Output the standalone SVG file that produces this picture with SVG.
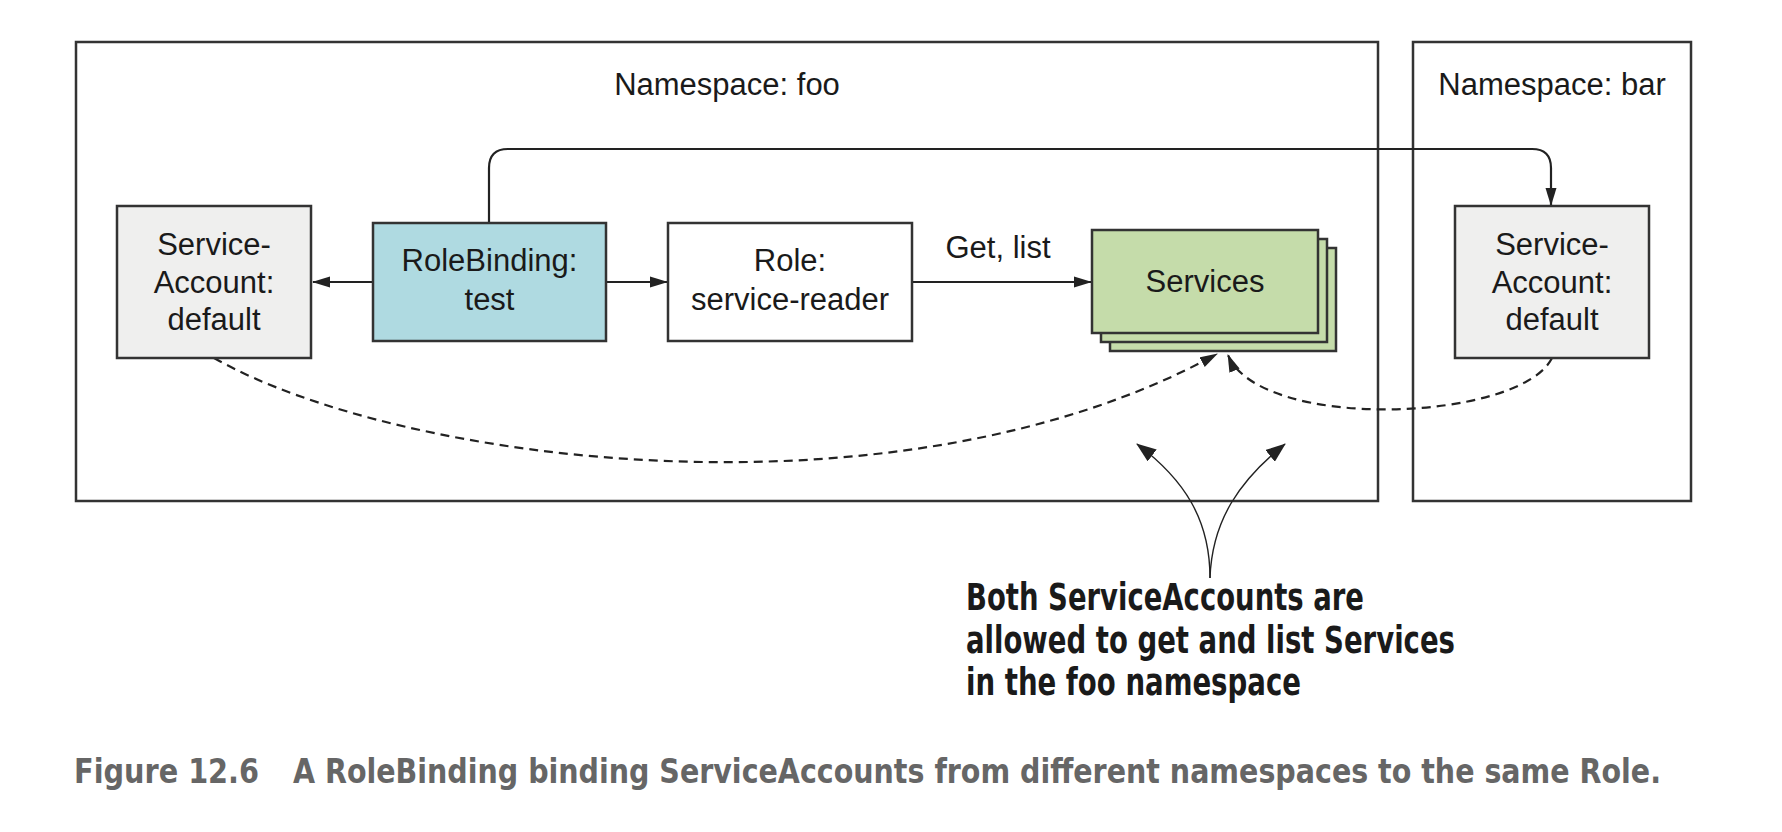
<svg xmlns="http://www.w3.org/2000/svg" width="1782" height="832" viewBox="0 0 1782 832">
<defs>
<style>
.ns{fill:none;stroke:#333;stroke-width:2.5}
.box{stroke:#333;stroke-width:2.5}
.t{font-family:"Liberation Sans",Arial,sans-serif;font-size:31px;fill:#1a1a1a;text-anchor:middle}
.ln{fill:none;stroke:#222;stroke-width:2.2}
.dash{fill:none;stroke:#222;stroke-width:2.2;stroke-dasharray:9 6}
.thin{fill:none;stroke:#222;stroke-width:1.4}
.note{font-family:"Liberation Sans Narrow","DejaVu Sans Condensed","Liberation Sans",sans-serif;font-weight:bold;font-size:37px;fill:#1a1a1a}
.cap{font-family:"Liberation Sans Narrow","DejaVu Sans Condensed","Liberation Sans",sans-serif;font-weight:bold;font-size:33px;fill:#666}
</style>
<marker id="ah" markerWidth="18" markerHeight="12" refX="17" refY="6" orient="auto" markerUnits="userSpaceOnUse">
<path d="M0,0.5 L18,6 L0,11.5 z" fill="#222"/>
</marker>
<marker id="ah2" markerWidth="20" markerHeight="15" refX="19" refY="7.5" orient="auto" markerUnits="userSpaceOnUse">
<path d="M0,0 L20,7.5 L0,15 z" fill="#222"/>
</marker>
</defs>
<rect width="1782" height="832" fill="#fff"/>

<g id="ns-foo">
<rect class="ns" x="76" y="42" width="1302" height="459"/>
<text class="t" x="727" y="95">Namespace: foo</text>
</g>
<g id="ns-bar">
<rect class="ns" x="1413" y="42" width="278" height="459"/>
<text class="t" x="1552" y="95">Namespace: bar</text>
</g>

<g id="connectors">
<path class="ln" d="M373,282 L313,282" marker-end="url(#ah)"/>
<path class="ln" d="M606,282 L667,282" marker-end="url(#ah)"/>
<path class="ln" d="M912,282 L1091,282" marker-end="url(#ah)"/>
<path class="ln" d="M489,223 L489,168 Q489,149 508,149 L1532,149 Q1551,149 1551,168 L1551,205" marker-end="url(#ah)"/>
<path class="dash" d="M214,358 C400,464 900,528 1217,354" marker-end="url(#ah)"/>
<path class="dash" d="M1552,358 C1520,422 1260,432 1228,355" marker-end="url(#ah)"/>
<path class="thin" d="M1210,578 C1210,520 1185,480 1137,444" marker-end="url(#ah2)"/>
<path class="thin" d="M1210,578 C1212,520 1240,480 1285,444" marker-end="url(#ah2)"/>
</g>

<g id="sa-foo">
<rect class="box" x="117" y="206" width="194" height="152" fill="#efefee"/>
<text class="t" x="214" y="255">Service-</text>
<text class="t" x="214" y="293">Account:</text>
<text class="t" x="214" y="330">default</text>
</g>
<g id="rolebinding">
<rect class="box" x="373" y="223" width="233" height="118" fill="#afdae1"/>
<text class="t" x="489.5" y="271">RoleBinding:</text>
<text class="t" x="489.5" y="310">test</text>
</g>
<g id="role">
<rect class="box" x="668" y="223" width="244" height="118" fill="#fff"/>
<text class="t" x="790" y="271">Role:</text>
<text class="t" x="790" y="310">service-reader</text>
</g>
<g id="label-getlist">
<text class="t" x="998" y="258">Get, list</text>
</g>
<g id="services">
<rect class="box" x="1110" y="248" width="226" height="103" fill="#c5dcaa"/>
<rect class="box" x="1101" y="239" width="226" height="103" fill="#c5dcaa"/>
<rect class="box" x="1092" y="230" width="226" height="103" fill="#c5dcaa"/>
<text class="t" x="1205" y="292">Services</text>
</g>
<g id="sa-bar">
<rect class="box" x="1455" y="206" width="194" height="152" fill="#efefee"/>
<text class="t" x="1552" y="255">Service-</text>
<text class="t" x="1552" y="293">Account:</text>
<text class="t" x="1552" y="330">default</text>
</g>

<g id="annotation">
<text class="note" x="966" y="610" textLength="398" lengthAdjust="spacingAndGlyphs">Both ServiceAccounts are</text>
<text class="note" x="966" y="653" textLength="489" lengthAdjust="spacingAndGlyphs">allowed to get and list Services</text>
<text class="note" x="966" y="695" textLength="335" lengthAdjust="spacingAndGlyphs">in the foo namespace</text>
</g>

<g id="caption">
<text class="cap" x="74" y="783" textLength="185" lengthAdjust="spacingAndGlyphs">Figure 12.6</text>
<text class="cap" x="293" y="783" textLength="1368" lengthAdjust="spacingAndGlyphs">A RoleBinding binding ServiceAccounts from different namespaces to the same Role.</text>
</g>
</svg>
